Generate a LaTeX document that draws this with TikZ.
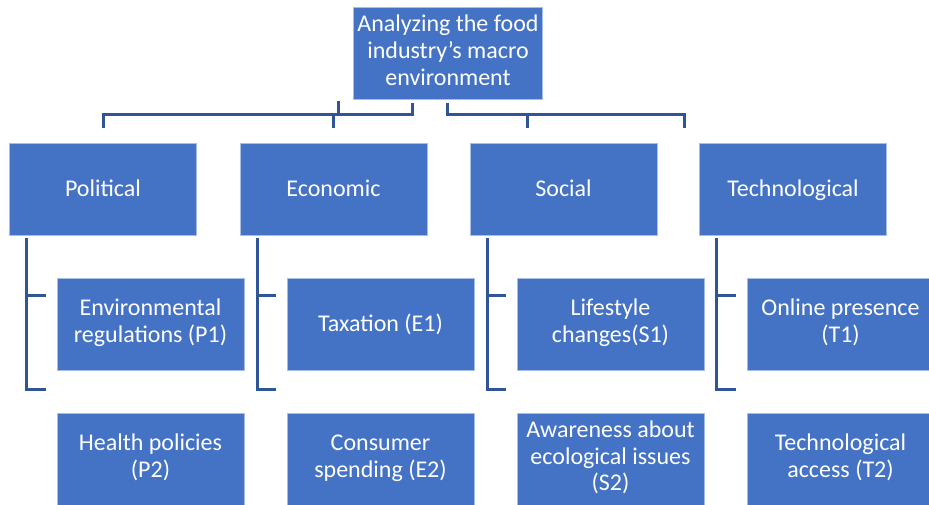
\documentclass[tikz,border=0pt]{standalone}
\usepackage{fontspec}
\setmainfont{Carlito}
\definecolor{boxblue}{HTML}{4472C4}
\definecolor{boxedge}{HTML}{A9BEE4}
\definecolor{linkblue}{HTML}{2F5597}
\newcommand{\boxstrut}{\rule[-3.2pt]{0pt}{13.4pt}}
\tikzset{
  box/.style={rectangle, fill=boxblue, draw=boxedge, line width=0.4pt,
    minimum width=93.5pt, minimum height=46pt, inner sep=2pt,
    text=white, align=center, font=\fontsize{12}{13.4}\selectfont,
    execute at begin node=\boxstrut, execute at end node=\boxstrut},
  conn/.style={draw=linkblue, line width=1.5pt}
}
\begin{document}
\begin{tikzpicture}[x=0.5pt, y=-0.5pt]
  \useasboundingbox (0,0) rectangle (929,504);
  \draw
    (448,53.5) node[box] (top) {Analyzing the food\\industry’s macro\\environment}
    (103,189) node[box] (pol) {Political}
    (333.5,189) node[box] (eco) {Economic}
    (563.5,189) node[box] (soc) {Social}
    (793,189) node[box] (tec) {Technological}
    (150.5,324) node[box] (p1) {Environmental\\regulations (P1)}
    (150.5,459) node[box] (p2) {Health policies\\(P2)}
    (380.5,324) node[box] (e1) {Taxation (E1)}
    (380.5,459) node[box] (e2) {Consumer\\spending (E2)}
    (610.5,324) node[box] (s1) {Lifestyle\\changes(S1)}
    (610.5,459) node[box] (s2) {Awareness about\\ecological issues\\(S2)}
    (840.5,324) node[box] (t1) {Online presence\\(T1)}
    (840.5,459) node[box] (t2) {Technological\\access (T2)};
  % top box to the four factors
  \draw[conn] ([xshift=-18pt,yshift=-1.5pt]top.south) |- ([yshift=14pt]pol.north) -- ([yshift=7.5pt]pol.north);
  \draw[conn] ([yshift=14pt]eco.north) -- ([yshift=7.5pt]eco.north);
  \draw[conn] ([xshift=2.25pt,yshift=21pt]eco.north) -- ([xshift=2.25pt,yshift=14pt]eco.north);
  \draw[conn] ([xshift=-0.5pt,yshift=-1.5pt]top.south) |- ([xshift=-54.5pt,yshift=14pt]tec.north) -- ([xshift=-54.5pt,yshift=7.5pt]tec.north);
  \draw[conn] ([xshift=-18.25pt,yshift=14pt]soc.north) -- ([xshift=-18.25pt,yshift=7.5pt]soc.north);
  % brackets below the factors
  \draw[conn] ([xshift=8.75pt,yshift=-1.5pt]pol.south west) |- ([xshift=-5.5pt,yshift=-9.5pt]p1.south west);
  \draw[conn] ([xshift=-15pt,yshift=-9pt]p1.north west) -- ([xshift=-5.5pt,yshift=-9pt]p1.north west);
  \draw[conn] ([xshift=8.75pt,yshift=-1.5pt]eco.south west) |- ([xshift=-5.5pt,yshift=-9.5pt]e1.south west);
  \draw[conn] ([xshift=-15pt,yshift=-9pt]e1.north west) -- ([xshift=-5.5pt,yshift=-9pt]e1.north west);
  \draw[conn] ([xshift=8.75pt,yshift=-1.5pt]soc.south west) |- ([xshift=-5.5pt,yshift=-9.5pt]s1.south west);
  \draw[conn] ([xshift=-15pt,yshift=-9pt]s1.north west) -- ([xshift=-5.5pt,yshift=-9pt]s1.north west);
  \draw[conn] ([xshift=8.75pt,yshift=-1.5pt]tec.south west) |- ([xshift=-5.5pt,yshift=-9.5pt]t1.south west);
  \draw[conn] ([xshift=-15pt,yshift=-9pt]t1.north west) -- ([xshift=-5.5pt,yshift=-9pt]t1.north west);
\end{tikzpicture}
\end{document}
